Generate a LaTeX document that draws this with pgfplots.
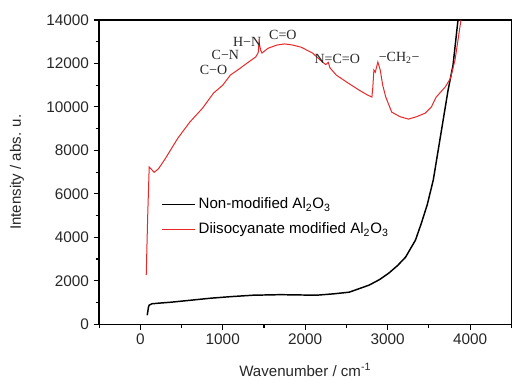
\documentclass[border=0pt]{standalone}
\usepackage{fontspec}
\setmainfont{Liberation Sans}
\newfontfamily\tnr{Liberation Serif}
\usepackage{pgfplots}
\pgfplotsset{compat=1.18}
\definecolor{redline}{RGB}{232,40,40}
\begin{document}
\begin{tikzpicture}
\begin{axis}[
  width=309pt, height=228pt, scale only axis,
  xmin=-500, xmax=4500, ymin=0, ymax=14000,
  xtick={0,1000,2000,3000,4000},
  minor xtick={-500,500,1500,2500,3500,4500},
  ytick={0,2000,4000,6000,8000,10000,12000,14000},
  minor ytick={1000,3000,5000,7000,9000,11000,13000},
  scaled y ticks=false, scaled x ticks=false,
  tick align=outside, xtick pos=bottom, ytick pos=left,
  major tick length=4pt, minor tick length=2.5pt,
  axis line style={line width=0.9pt},
  every tick/.style={black, line width=0.8pt},
  /pgf/number format/1000 sep={},
  /pgf/number format/assume math mode=true,
  tick label style={font=\fontsize{11.5}{13}\selectfont, text=black!85},
  label style={font=\fontsize{11.3}{13}\selectfont, text=black!85},
  xlabel={Wavenumber / cm\textsuperscript{-1}},
  ylabel={Intensity / abs. u.},
  xlabel style={at={(axis description cs:0.5,-0.15)}, anchor=center},
  ylabel style={at={(axis description cs:-0.199,0.5)}, anchor=center},
  legend style={draw=none, fill=none, at={(0.15,0.425)}, anchor=north west,
    font=\fontsize{11.3}{13}\selectfont, row sep=5pt, inner sep=0pt},
  legend cell align=left,
  legend image code/.code={\draw[#1] (0pt,0pt) -- (25pt,0pt);},
]
\coordinate (ll) at (rel axis cs:0,0);
\coordinate (ur) at (rel axis cs:1,1);
\addplot[black, line width=1.1pt] coordinates {
(84,414) (100,800) (108,875) (140,940) (216,967) (372,1013) (600,1100)
(852,1197) (1100,1270) (1368,1335) (1700,1360) (2137,1335) (2350,1400)
(2533,1474) (2773,1796) (2900,2050) (3013,2349) (3120,2700) (3217,3085)
(3337,3868) (3409,4651) (3480,5500) (3553,6631) (3613,8013) (3673,9394)
(3733,10776) (3793,11927) (3853,14000) (3870,14500)
};
\addlegendentry{Non-modified Al\textsubscript{2}O\textsubscript{3}}
\addplot[redline, line width=0.75pt] coordinates {
(72,2256) (90,5000) (108,7230) (130,7150) (168,6990) (220,7150) (300,7600)
(456,8565) (600,9300) (756,9947) (888,10637) (1000,11000) (1092,11466)
(1200,11750) (1296,12019) (1400,12300) (1430,12500) (1440,12986) (1460,12600)
(1476,12480) (1550,12700) (1656,12848) (1750,12900) (1849,12848) (1950,12750)
(2089,12480) (2209,12065) (2250,11950) (2280,12050) (2300,11800) (2377,11466)
(2500,11150) (2653,10776) (2750,10560) (2809,10453) (2820,10900) (2833,11697)
(2850,11600) (2881,12065) (2910,11700) (2940,11000) (2977,10453) (3049,9763)
(3150,9550) (3253,9440) (3350,9550) (3457,9717) (3530,10000) (3589,10453)
(3697,10914) (3760,11300) (3817,12157) (3889,14000) (3910,14500)
};
\addlegendentry{Diisocyanate modified Al\textsubscript{2}O\textsubscript{3}}
\begin{scope}[every node/.style={font=\tnr\fontsize{10.5}{12}\selectfont, text=black!85, inner sep=0pt}]
\node at (axis cs:888,11697) {C−O};
\node at (axis cs:1032,12388) {C−N};
\node at (axis cs:1296,12986) {H−N};
\node at (axis cs:1729,13309) {C=O};
\node at (axis cs:2389,12203) {N=C=O};
\node at (axis cs:3140,12250) {−CH\textsubscript{2}−};
\end{scope}
\end{axis}
\path ([shift={(-74.25pt,-41.25pt)}]ll) ([shift={(0.5pt,15pt)}]ur);
\end{tikzpicture}
\end{document}
